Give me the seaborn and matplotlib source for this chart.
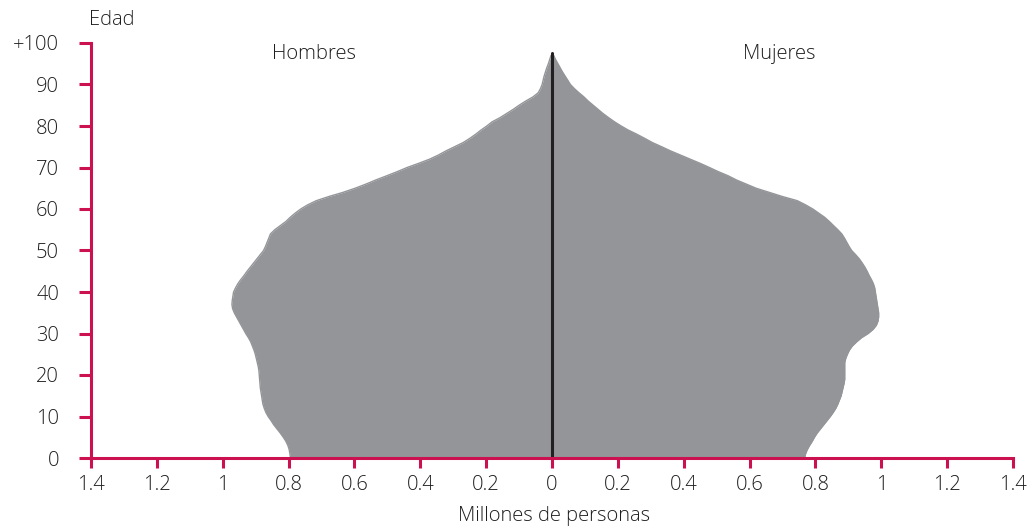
import numpy as np
import pandas as pd
import matplotlib
matplotlib.use("Agg")
import matplotlib.pyplot as plt
import seaborn as sns

# ---- data (millions of persons, single ages 0..97) ----
ages = list(range(0, 98))
hombres = [
    0.794, 0.796, 0.798, 0.802, 0.808, 0.816, 0.825, 0.835, 0.845, 0.853,
    0.862, 0.869, 0.874, 0.878, 0.880, 0.882, 0.884, 0.886, 0.887, 0.888,
    0.889, 0.890, 0.892, 0.895, 0.898, 0.901, 0.905, 0.910, 0.915, 0.922,
    0.930, 0.937, 0.944, 0.951, 0.958, 0.965, 0.970, 0.972, 0.971, 0.969,
    0.967, 0.961, 0.954, 0.945, 0.935, 0.926, 0.916, 0.906, 0.896, 0.886,
    0.876, 0.870, 0.865, 0.860, 0.855, 0.842, 0.825, 0.808, 0.795, 0.780,
    0.763, 0.742, 0.716, 0.678, 0.635, 0.598, 0.565, 0.535, 0.502, 0.470,
    0.440, 0.405, 0.372, 0.345, 0.322, 0.296, 0.270, 0.250, 0.232, 0.216,
    0.198, 0.182, 0.158, 0.138, 0.118, 0.100, 0.080, 0.058, 0.042, 0.035,
    0.030, 0.027, 0.024, 0.020, 0.016, 0.011, 0.007, 0.003,
]
mujeres = [
    0.767, 0.770, 0.775, 0.782, 0.790, 0.797, 0.805, 0.815, 0.825, 0.835,
    0.845, 0.854, 0.862, 0.868, 0.873, 0.878, 0.881, 0.884, 0.887, 0.889,
    0.889, 0.889, 0.889, 0.889, 0.892, 0.897, 0.903, 0.912, 0.925, 0.940,
    0.960, 0.975, 0.985, 0.990, 0.992, 0.992, 0.990, 0.988, 0.986, 0.984,
    0.982, 0.980, 0.976, 0.970, 0.963, 0.957, 0.950, 0.942, 0.933, 0.922,
    0.910, 0.902, 0.895, 0.888, 0.880, 0.868, 0.855, 0.842, 0.828, 0.810,
    0.792, 0.770, 0.745, 0.700, 0.660, 0.620, 0.590, 0.560, 0.535, 0.505,
    0.478, 0.450, 0.420, 0.390, 0.360, 0.333, 0.305, 0.282, 0.258, 0.232,
    0.210, 0.190, 0.172, 0.155, 0.140, 0.125, 0.110, 0.097, 0.082, 0.068,
    0.056, 0.048, 0.040, 0.032, 0.025, 0.018, 0.011, 0.005,
]
x_ticks = [-1.4, -1.2, -1.0, -0.8, -0.6, -0.4, -0.2, 0, 0.2, 0.4, 0.6, 0.8, 1.0, 1.2, 1.4]
x_tick_labels = ["1.4", "1.2", "1", "0.8", "0.6", "0.4", "0.2", "0",
                 "0.2", "0.4", "0.6", "0.8", "1", "1.2", "1.4"]
y_ticks = [0, 10, 20, 30, 40, 50, 60, 70, 80, 90, 100]
y_tick_labels = ["0", "10", "20", "30", "40", "50", "60", "70", "80", "90", "+100"]

# ---- styles ----
GRAY = "#939598"
CRIMSON = "#cc1150"
TXT = "#1e1e1e"
FONT = ["Open Sans", "DejaVu Sans"]
FS = 14.5
WEIGHT = "light"

df = pd.concat([
    pd.DataFrame({"edad": ages, "valor": [-v for v in hombres], "sexo": "Hombres"}),
    pd.DataFrame({"edad": ages, "valor": mujeres, "sexo": "Mujeres"}),
], ignore_index=True)

sns.set_theme(style="white")
plt.rcParams["font.family"] = FONT
plt.rcParams["font.weight"] = WEIGHT

fig = plt.figure(figsize=(10.34, 5.32), dpi=100)
ax = fig.add_axes([91 / 1034, 1 - 458 / 532, (1013 - 91) / 1034, (458 - 43) / 532])

# outline of each half of the pyramid
sns.lineplot(data=df, x="valor", y="edad", hue="sexo", orient="y", sort=True,
             palette={"Hombres": GRAY, "Mujeres": GRAY}, lw=1.0, legend=False,
             estimator=None, ax=ax)
# area fill
for sexo, sub in df.groupby("sexo"):
    ax.fill_betweenx(sub["edad"], sub["valor"], 0, color=GRAY, lw=0)

top_age = (ages[-1] + 0.7) / 100
ax.axvline(0, ymin=0, ymax=top_age, color="#231f20", lw=2.2, zorder=5)

ax.set_xlim(-1.4, 1.4)
ax.set_ylim(0, 100)
ax.set_xticks(x_ticks)
ax.set_xticklabels(x_tick_labels)
ax.set_yticks(y_ticks)
ax.set_yticklabels(y_tick_labels)
ax.set_xlabel("")
ax.set_ylabel("")

for s in ["top", "right"]:
    ax.spines[s].set_visible(False)
for s in ["left", "bottom"]:
    ax.spines[s].set_color(CRIMSON)
    ax.spines[s].set_linewidth(2.2)
    ax.spines[s].set_zorder(6)

ax.tick_params(axis="y", direction="out", length=9, width=2.2, color=CRIMSON,
               labelcolor=TXT, labelsize=FS, pad=14, left=True)
ax.tick_params(axis="x", direction="out", length=7, width=2.2, color=CRIMSON,
               labelcolor=TXT, labelsize=FS, pad=5, bottom=True)
ax.set_facecolor("white")
fig.patch.set_facecolor("white")

fig.text(89 / 1034, 1 - 20 / 532, "Edad", ha="left", va="center", fontsize=FS, color=TXT)
fig.text(314 / 1034, 1 - 54 / 532, "Hombres", ha="center", va="center", fontsize=FS, color=TXT)
fig.text(779 / 1034, 1 - 54 / 532, "Mujeres", ha="center", va="center", fontsize=FS, color=TXT)
fig.text(554 / 1034, 1 - 516 / 532, "Millones de personas", ha="center", va="center",
         fontsize=FS, color=TXT)

fig.savefig("out.png", dpi=100, facecolor="white")
